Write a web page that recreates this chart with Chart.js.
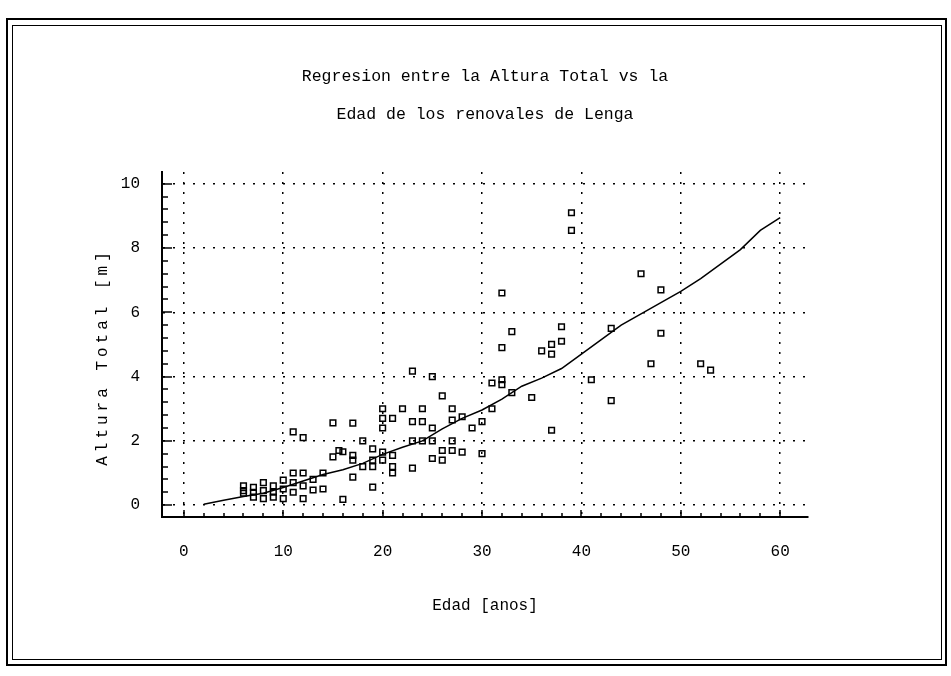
<!DOCTYPE html>
<html>
<head>
<meta charset="utf-8">
<script src="https://cdn.jsdelivr.net/npm/chart.js@4.4.1/dist/chart.umd.min.js"></script>
<style>
body{margin:0;background:#fff;}
#wrap{position:relative;width:951px;height:676px;}
#marco1{position:absolute;left:6px;top:18px;width:937px;height:644px;border:2px solid #000;}
#marco2{position:absolute;left:12px;top:25px;width:928px;height:633px;border:1px solid #000;}
canvas{position:absolute;left:0;top:0;}
</style>
</head>
<body>
<div id="wrap">
<div id="marco1"></div>
<div id="marco2"></div>
<canvas id="grafico" width="951" height="676"></canvas>
</div>
<script>
// datos observados: edad (anos) y altura total (m)
const edad = [6,6,6, 7,7,7, 8,8,8, 9,9,9, 10,10,10, 11,11,11,11, 12,12,12,12, 13,13, 14,14,
  15,15, 15.6, 16,16, 17,17,17,17, 18,18, 19,19,19,19, 20,20,20,20,20, 21,21,21,21, 22,
  23,23,23,23, 24,24,24, 25,25,25,25, 26,26,26, 27,27,27,27, 28,28, 29, 30,30, 31,31,
  32,32,32,32, 33,33, 35, 36, 37,37,37, 38,38, 39,39, 41, 43,43, 46, 47, 48,48, 52, 53];
const altura = [0.6,0.37,0.45, 0.55,0.25,0.4, 0.7,0.2,0.45, 0.6,0.25,0.4, 0.78,0.2,0.5,
  2.28,1.0,0.7,0.4, 2.1,1.0,0.6,0.2, 0.8,0.47, 1.0,0.5,
  2.56,1.5, 1.7, 1.66,0.18, 2.55,1.55,1.4,0.87, 2.0,1.2, 1.75,1.4,1.2,0.56, 3.0,2.7,2.4,1.65,1.4,
  2.7,1.55,1.2,1.0, 3.0, 4.17,2.6,2.0,1.15, 3.0,2.6,2.0, 4.0,2.4,2.0,1.45, 3.4,1.7,1.4,
  3.0,2.65,2.0,1.7, 2.75,1.65, 2.4, 2.6,1.6, 3.8,3.0,
  6.6,4.9,3.9,3.75, 5.4,3.5, 3.35, 4.8, 5.0,4.7,2.33, 5.55,5.1, 9.1,8.55, 3.9, 5.5,3.25, 7.2, 4.4, 6.7,5.35, 4.4, 4.2];

// curva de regresion
const edadAjuste = [2,4,6,8,10,12,14,16,18,20,22,24,26,28,30,32,34,36,38,40,42,44,46,48,50,52,54,56,58,60];
const alturaAjuste = [0.03,0.15,0.27,0.37,0.55,0.75,0.95,1.1,1.3,1.58,1.8,2.0,2.37,2.7,2.96,3.3,3.7,3.95,4.25,4.7,5.15,5.6,5.95,6.3,6.65,7.05,7.5,7.95,8.55,8.95];

const xTicks = [0,10,20,30,40,50,60];
const yTicks = [0,2,4,6,8,10];
const xMenor = 2;   // marcas menores eje x
const yMenor = 0.4; // marcas menores eje y

const fuente = '"Liberation Mono", "DejaVu Sans Mono", monospace';

const puntos = edad.map((e, i) => ({x: e, y: altura[i]}));
const ajuste = edadAjuste.map((e, i) => ({x: e, y: alturaAjuste[i]}));

// titulo del eje y, con letras separadas como en el original
const tituloY = {
  id: 'tituloY',
  afterDraw(chart) {
    const ctx = chart.ctx;
    ctx.save();
    ctx.translate(103, 357);
    ctx.rotate(-Math.PI / 2);
    ctx.font = '16px ' + fuente;
    ctx.letterSpacing = '4px';
    ctx.textAlign = 'center';
    ctx.textBaseline = 'middle';
    ctx.fillStyle = '#000';
    ctx.fillText('Altura Total [m]', 0, 0);
    ctx.restore();
  }
};

// marcas hacia dentro en los ejes
const marcas = {
  id: 'marcas',
  afterDraw(chart) {
    const ctx = chart.ctx;
    const x = chart.scales.x, y = chart.scales.y;
    ctx.save();
    ctx.strokeStyle = '#000';
    ctx.lineWidth = 1.5;
    ctx.beginPath();
    for (let i = 0; i * xMenor <= xTicks[xTicks.length - 1]; i++) {
      const px = Math.round(x.getPixelForValue(i * xMenor));
      const largo = (i % 5 === 0) ? 7 : 4;
      ctx.moveTo(px, y.bottom);
      ctx.lineTo(px, y.bottom - largo);
    }
    for (let i = 0; i * yMenor <= yTicks[yTicks.length - 1] + 0.01; i++) {
      const py = Math.round(y.getPixelForValue(i * yMenor));
      const largo = (i % 5 === 0) ? 10 : 6;
      ctx.moveTo(x.left, py);
      ctx.lineTo(x.left + largo, py);
    }
    ctx.stroke();
    ctx.restore();
  }
};

new Chart(document.getElementById('grafico'), {
  type: 'scatter',
  data: {
    datasets: [
      {
        label: 'Regresion',
        data: ajuste,
        showLine: true,
        borderColor: '#000',
        borderWidth: 1.5,
        pointRadius: 0,
        tension: 0
      },
      {
        label: 'Observado',
        data: puntos,
        pointStyle: 'rect',
        pointRadius: 4,
        borderWidth: 1.5,
        borderColor: '#000',
        backgroundColor: 'rgba(0,0,0,0)'
      }
    ]
  },
  options: {
    responsive: false,
    animation: false,
    layout: {padding: {left: 0, right: 143, top: 0, bottom: 0}},
    plugins: {
      legend: {display: false},
      tooltip: {enabled: false},
      title: {
        display: true,
        fullSize: false,
        text: ['Regresion entre la Altura Total vs la', 'Edad de los renovales de Lenga'],
        color: '#000',
        font: {family: fuente, size: 16.5, weight: 'normal', lineHeight: 2.3},
        padding: {top: 58, bottom: 38}
      }
    },
    scales: {
      x: {
        type: 'linear',
        min: -2.2,
        max: 62.8,
        afterBuildTicks: s => { s.ticks = xTicks.map(v => ({value: v})); },
        afterFit: s => { s.height = 159; },
        ticks: {color: '#000', padding: 25, font: {family: fuente, size: 16}},
        grid: {color: '#000', lineWidth: 1.5, drawTicks: false},
        border: {display: true, color: '#000', width: 2, dash: [2, 8]},
        title: {
          display: true,
          text: 'Edad [anos]',
          color: '#000',
          font: {family: fuente, size: 16},
          padding: {top: 0, bottom: 61}
        }
      },
      y: {
        type: 'linear',
        min: -0.37,
        max: 10.37,
        afterBuildTicks: s => { s.ticks = yTicks.map(v => ({value: v})); },
        afterFit: s => { s.width = 162; },
        ticks: {color: '#000', padding: 22, font: {family: fuente, size: 16}},
        grid: {color: '#000', lineWidth: 1.5, drawTicks: false},
        border: {display: true, color: '#000', width: 2, dash: [2, 8]}
      }
    }
  },
  plugins: [tituloY, marcas]
});
</script>
</body>
</html>
